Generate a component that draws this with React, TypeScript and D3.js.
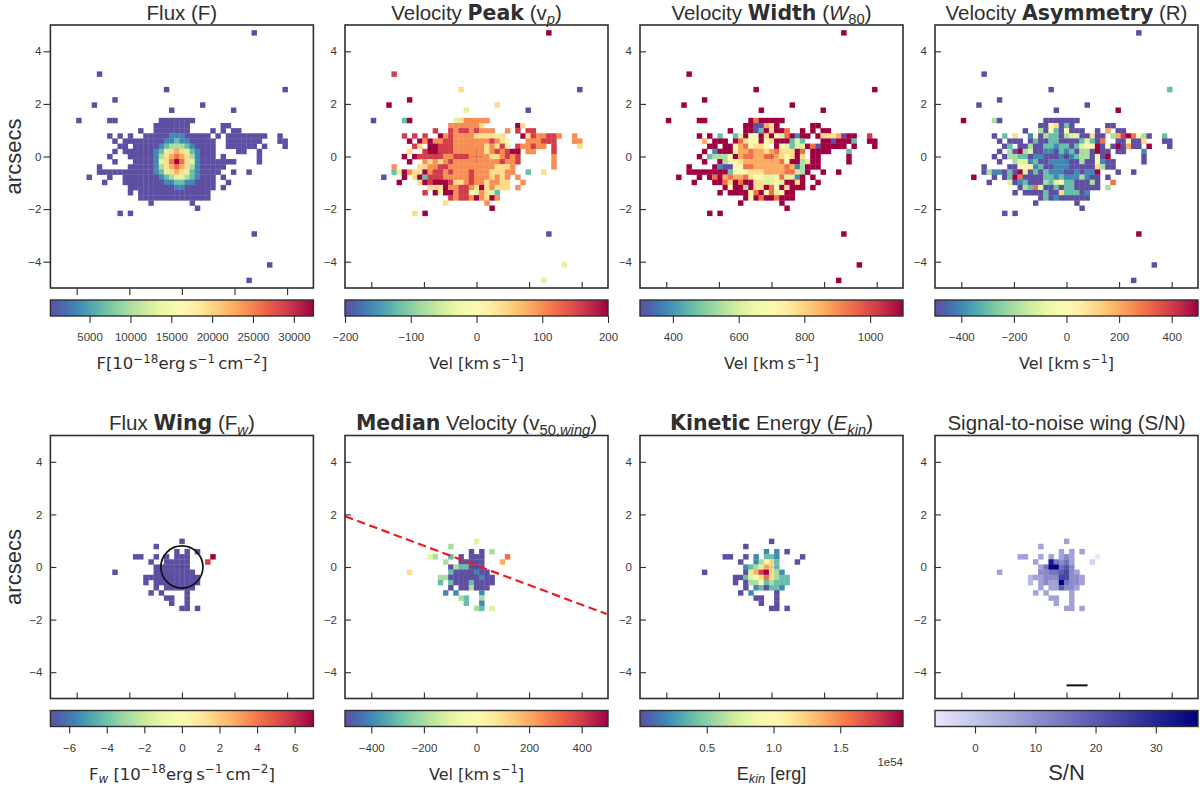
import React, { useEffect, useRef } from "react";
import * as d3 from "d3";

// each map row: "row col:levels col:levels", levels run 0..a along the colour scale, o = 7.5
const fluxRows = [
  "1 39:0", "9 9:0", "12 22:0 45:0", "14 12:0", "15 8:0 29:0", "16 23:0 35:0",
  "18 5:0 11:00 21:0000000",
  "19 20:0000000 33:00",
  "20 17:0 20:0000000 31:0 33:0 35:00",
  "21 11:0 13:0 15:0 18:00000 23:111 26:00000 32:0 34:00000000 44:0",
  "22 12:0 14:000000 20:001 23:121 26:100 29:000 34:0000000 44:00",
  "23 13:00 16:000 19:0012 23:333 26:2100 30:00 34:000000 41:0 45:0",
  "24 12:0 14:0000 18:0012467 25:6421000 36:00 40:0",
  "25 11:0 15:000 18:0013678 25:7631000 33:0 40:0",
  "26 12:0 16:00 18:001468a 25:8641000 32:0000 40:0",
  "27 9:0 15:000 18:0013678 25:7631000 32:00",
  "28 9:00000 14:0000 18:0012467 25:6421000 32:0 35:0 38:0",
  "29 7:0 11:0 14:00000 19:001234 25:432100 31:0 33:0",
  "30 10:0 14:000000 20:001122 26:110000 34:0",
  "31 15:000000 21:00011 26:000000 33:0",
  "32 15:0 17:00000 22:00000 27:0000",
  "33 17:00000000000000",
  "34 19:0 27:0", "35 28:0", "36 13:0 15:0", "40 39:0", "46 42:0", "49 38:0",
];

const peakRows = [
  "1 39:a", "9 9:9", "12 22:6 45:0", "14 12:a", "15 8:a 29:6", "16 23:4 35:0",
  "18 5:0 11:2a 21:46ooooo",
  "19 20:oooooo6 33:a6",
  "20 17:9 20:9o99o9ooo 31:o 33:9 35:99",
  "21 11:9 13:9 15:9 18:ao9oooo666646 34:a69oo99o 44:o",
  "22 12:a 14:aoaoo99ooooooo9o65 35:ooo999 44:oo",
  "23 13:96 16:aa999oooooo6o694 33:9oo9oo 40:9 45:6",
  "24 12:6 15:9aa999oooooo6o9o9aa 35:oo 40:9",
  "25 11:a 13:a99999oo999oooo66o9o9 40:o",
  "26 12:a 15:o6o6o9ooooooooo9oo9 40:o",
  "27 9:o 14:66oo99ooooooooo666o 40:o",
  "28 9:24ao66ao99o9ooo9ooo666oo 35:2 38:6",
  "29 7:0 11:a 13:6a2999ooooo9ooo6o6o 33:o",
  "30 10:a 14:6a9aaa966o9oo6oo66 34:o",
  "31 16:666aoo99o6a6o666 33:o",
  "32 15:9 17:a5aao9954o642",
  "33 20:9o99oao6ao",
  "34 19:6 27:o", "35 28:a", "36 13:6 15:a", "40 39:0", "46 42:4", "49 38:4",
];

const widthRows = [
  "1 39:a", "9 9:a", "12 22:a 45:a", "14 12:a", "15 8:a 29:a", "16 23:a 35:a",
  "18 5:a 11:aa 21:a8aaaaa",
  "19 20:aa00 24:76 26:a 33:aa",
  "20 17:a 20:aa02a6aa8 31:a 33:a 35:aa",
  "21 11:a 13:a 15:2 18:24a55a6a548a1aa 34:a66670aa 44:9",
  "22 12:7 14:aaa 18:a8655a56aaa242 35:aa0aaa2 44:aa",
  "23 13:aa 16:aa5785665 26:a54244a80aaaaa 41:a 45:a",
  "24 12:a 14:1aaa577877678666a8 33:aaaa 40:2",
  "25 11:a 13:23335a78877887656a6 33:aa 40:a",
  "26 12:a 15:a3556777777785aa36 33:aa 40:a",
  "27 9:a 14:a10055887777778713aaa",
  "28 9:aaaaaaaa 17:255566677778863a 35:a 38:a",
  "29 7:a 11:a 13:a8a787786554458441a 33:a",
  "30 10:a 14:aa86a8aa664454aa6a 34:a",
  "31 16:a5aa3a66a85a6aaa 33:a",
  "32 15:a 17:aaaa58a5845aa",
  "33 20:a5a8aa8aaa",
  "34 19:a 27:a", "35 28:a", "36 13:a 15:a", "40 39:a", "46 42:a", "49 38:a",
];

const asymRows = [
  "1 39:0", "9 9:0", "12 22:0 45:2", "14 12:0", "15 8:0 29:0", "16 23:0 35:a",
  "18 5:a 11:30 21:0000000",
  "19 20:0056020 33:00",
  "20 17:0 20:305205000 31:0 33:7 35:00",
  "21 11:0 13:2 15:6 18:150322034400600 34:379a8530 44:2",
  "22 12:0 14:000 18:020022000024208 35:005006 44:00",
  "23 13:02 16:003002212202455a050a0700 41:a 45:0",
  "24 12:0 14:30a34001102120330a00 35:00 40:1",
  "25 11:0 13:03322011000101233050a 40:0",
  "26 12:0 15:34412001111003005100 40:0",
  "27 9:0 14:005551200111000006300",
  "28 9:0311020a40202111001011a 35:0 38:0",
  "29 7:a 11:0 13:02a8000022121113100 33:0",
  "30 10:0 14:401200032452200030 34:8",
  "31 16:0328400202200000 33:3",
  "32 15:0 17:0000200622201",
  "33 20:0201000000",
  "34 19:0 27:0", "35 28:0", "36 13:0 15:0", "40 39:a", "46 42:0", "49 38:0",
];

const wingFluxRows = [
  "20 25:0", "21 20:0", "22 24:0 26:0 28:0",
  "23 16:00 20:0 22:0 24:000 31:a",
  "24 19:0 22:00000 30:9",
  "25 20:0000000",
  "26 12:0 20:00000000",
  "27 18:00000000000",
  "28 18:0 20:000000000",
  "29 20:0 22:000000",
  "30 19:0 21:0 26:0", "31 22:00 26:0", "32 23:0 26:0", "33 25:00 28:0",
];

const medianRows = [
  "20 25:4", "21 20:3", "22 24:0 26:0 28:3",
  "23 16:43 20:2 22:0 24:000 31:8",
  "24 19:3 22:00000 30:7",
  "25 20:0322000",
  "26 12:6 20:20000100",
  "27 18:33000000100",
  "28 18:2 20:200020000",
  "29 20:0 22:003000",
  "30 19:1 21:1 26:1", "31 22:32 26:3", "32 23:2 26:1", "33 25:32 28:4",
];

const ekinRows = [
  "20 25:0", "21 20:0", "22 24:1 26:1 28:0",
  "23 16:00 20:0 22:1 24:221 31:0",
  "24 19:0 22:13562 30:0",
  "25 20:1234762",
  "26 12:0 20:0479a631",
  "27 18:00 20:245686322",
  "28 18:0 20:033523222",
  "29 20:0 22:120221",
  "30 19:0 21:1 26:0", "31 22:00 26:0", "32 23:0 26:0", "33 25:00 28:0",
];

const snrRows = [
  "20 25:3", "21 20:3", "22 24:3 26:3 28:3",
  "23 16:33 20:3 22:3 24:343 31:0",
  "24 19:3 22:95453 30:1",
  "25 20:35aa564",
  "26 12:3 20:44556743",
  "27 18:23344477443",
  "28 18:2 20:3433a5443",
  "29 20:3 22:336443",
  "30 19:3 21:3 26:3", "31 22:33 26:3", "32 23:3 26:3", "33 25:33 28:3",
];

const fluxTicks = [5000, 10000, 15000, 20000, 25000, 30000];
const peakTicks = [-200, -100, 0, 100, 200];
const widthTicks = [400, 600, 800, 1000];
const velTicks = [-400, -200, 0, 200, 400];
const wingFluxTicks = [-6, -4, -2, 0, 2, 4, 6];
const ekinTicks = [0.5, 1.0, 1.5];
const snrTicks = [0, 10, 20, 30];
const axisTicks = [-4, -2, 0, 2, 4];

const beamCircle = { x: 0, y: 0, r: 0.8 };
const pvLine = [
  { x: -5, y: 1.93 },
  { x: 4.95, y: -1.79 },
];
const scaleBar = [
  { x: 0, y: -4.5 },
  { x: 0.8, y: -4.5 },
];

// text runs: [string, style], b bold, i italic, s sub, si italic sub, u sup
type Run = [string, string?];
const fluxUnit: Run[] = [
  ["[10"], ["\u221218", "u"], ["erg\u2009s"], ["\u22121", "u"], ["\u2009cm"], ["\u22122", "u"], ["]"],
];
const velUnit: Run[] = [["Vel [km\u2009s"], ["\u22121", "u"], ["]"]];

const spectral = (t: number) => d3.interpolateSpectral(1 - t);
const blues = d3.interpolateRgb("#e8e8fd", "#000080");

interface Panel {
  rows: string[];
  domain: [number, number];
  ticks: number[];
  interp: (t: number) => string;
  title: Run[];
  label: Run[];
  labelFont?: string;
  labelSize: number;
  tickFormat?: string;
}

const panels: Panel[] = [
  { rows: fluxRows, domain: [200, 32400], ticks: fluxTicks, interp: spectral, title: [["Flux (F)"]],
    label: [["F"], ...fluxUnit], labelFont: "DejaVu Sans", labelSize: 16.5, tickFormat: "d" },
  { rows: peakRows, domain: [-200, 200], ticks: peakTicks, interp: spectral,
    title: [["Velocity "], ["Peak", "b"], [" (v"], ["p", "si"], [")"]],
    label: velUnit, labelFont: "DejaVu Sans", labelSize: 16 },
  { rows: widthRows, domain: [300, 1100], ticks: widthTicks, interp: spectral,
    title: [["Velocity "], ["Width", "b"], [" ("], ["W", "i"], ["80", "s"], [")"]],
    label: velUnit, labelFont: "DejaVu Sans", labelSize: 16, tickFormat: "d" },
  { rows: asymRows, domain: [-500, 500], ticks: velTicks, interp: spectral,
    title: [["Velocity "], ["Asymmetry", "b"], [" (R)"]],
    label: velUnit, labelFont: "DejaVu Sans", labelSize: 16 },
  { rows: wingFluxRows, domain: [-7, 7], ticks: wingFluxTicks, interp: spectral,
    title: [["Flux "], ["Wing", "b"], [" (F"], ["w", "si"], [")"]],
    label: [["F"], ["w", "si"], [" "], ...fluxUnit], labelFont: "DejaVu Sans", labelSize: 16.5 },
  { rows: medianRows, domain: [-500, 500], ticks: velTicks, interp: spectral,
    title: [["Median", "b"], [" Velocity (v"], ["50,", "s"], ["wing", "si"], [")"]],
    label: velUnit, labelFont: "DejaVu Sans", labelSize: 16 },
  { rows: ekinRows, domain: [0, 1.97], ticks: ekinTicks, interp: spectral,
    title: [["Kinetic", "b"], [" Energy ("], ["E", "i"], ["kin", "si"], [")"]],
    label: [["E"], ["kin", "si"], [" [erg]"]], labelSize: 18, tickFormat: ".1f" },
  { rows: snrRows, domain: [-6.64, 37], ticks: snrTicks, interp: blues,
    title: [["Signal-to-noise wing (S/N)"]],
    label: [["S/N"]], labelSize: 22 },
];

const parseRows = (rows: string[]) =>
  rows.flatMap((line) => {
    const [row, ...runs] = line.split(" ");
    return runs.flatMap((run) => {
      const [col, levels] = run.split(":");
      return Array.from(levels).map((ch, i) => ({
        row: +row,
        col: +col + i,
        level: ch === "o" ? 7.5 : parseInt(ch, 11),
      }));
    });
  });

const panelLefts = [50.4, 345, 640, 935];
const rowTops = [25, 435.5];
const size = 263;
const GRID = 51;
const INK = "#2f2f2f";
const SANS = "'Liberation Sans', Arial, sans-serif";

const writeRuns = (text: d3.Selection<SVGTextElement, unknown, null, undefined>, runs: Run[], fontSize: number) => {
  let shift = 0;
  runs.forEach(([str, kind = ""]) => {
    const next = kind[0] === "s" ? fontSize * 0.22 : kind === "u" ? -fontSize * 0.38 : 0;
    const span = text
      .append("tspan")
      .attr("dy", next - shift)
      .attr("font-weight", kind === "b" ? 700 : 400)
      .attr("font-style", kind === "i" || kind === "si" ? "italic" : "normal")
      .attr("font-size", kind[0] === "s" || kind === "u" ? fontSize * 0.72 : fontSize)
      .text(str);
    // bold words come out in the wider math font
    if (kind === "b") span.attr("font-family", "'DejaVu Sans'");
    shift = next;
  });
};

const App: React.FC = () => {
  const ref = useRef<SVGSVGElement>(null);

  useEffect(() => {
    const svg = d3.select(ref.current);
    svg.selectAll("*").remove();
    const defs = svg.append("defs");
    defs
      .append("filter")
      .attr("id", "soft")
      .attr("x", "-5%")
      .attr("y", "-5%")
      .attr("width", "110%")
      .attr("height", "110%")
      .append("feGaussianBlur")
      .attr("stdDeviation", 0.45);

    const cell = d3.scaleLinear().domain([0, GRID]).range([-5, 5]);

    panels.forEach((p, i) => {
      const left = panelLefts[i % 4];
      const top = rowTops[Math.floor(i / 4)];
      const x = d3.scaleLinear().domain([-5, 5]).range([0, size]);
      const y = d3.scaleLinear().domain([-5, 5]).range([size, 0]);
      const color = d3.scaleSequential(p.interp).domain(p.domain);
      const g = svg.append("g").attr("transform", `translate(${left},${top})`);

      // map cells
      const cells = parseRows(p.rows);
      g.append("g")
        .attr("filter", "url(#soft)")
        .selectAll("rect")
        .data(cells)
        .enter()
        .append("rect")
        .attr("x", (d) => x(cell(d.col)))
        .attr("y", (d) => y(-cell(d.row)))
        .attr("width", x(cell(1)) - x(cell(0)) + 0.3)
        .attr("height", x(cell(1)) - x(cell(0)) + 0.3)
        .attr("fill", (d) => color(p.domain[0] + (d.level / 10) * (p.domain[1] - p.domain[0])));

      // faint centre cross
      if (i > 0) {
        g.append("path")
          .attr("d", `M${x(-0.25)},${y(0)}H${x(0.25)}M${x(0)},${y(-0.25)}V${y(0.25)}`)
          .attr("stroke", "rgba(0,0,0,0.18)")
          .attr("stroke-width", 0.7)
          .attr("fill", "none");
      }

      if (i === 4) {
        g.append("circle")
          .attr("cx", x(beamCircle.x))
          .attr("cy", y(beamCircle.y))
          .attr("r", x(beamCircle.r) - x(0))
          .attr("fill", "none")
          .attr("stroke", "#111")
          .attr("stroke-width", 1.7);
      }
      const line = d3
        .line<{ x: number; y: number }>()
        .x((d) => x(d.x))
        .y((d) => y(d.y));
      if (i === 5) {
        g.append("path")
          .attr("d", line(pvLine)!)
          .attr("stroke", "#ee1c1c")
          .attr("stroke-width", 2.2)
          .attr("stroke-dasharray", "8.5,4.5")
          .attr("fill", "none");
      }
      if (i === 7) {
        g.append("path").attr("d", line(scaleBar)!).attr("stroke", "#111").attr("stroke-width", 2);
      }

      // axes, only the first panel has outward ticks
      const tick = i === 0 ? 7 : -6;
      const xAxis = d3.axisBottom(x).tickValues(axisTicks).tickSize(tick).tickFormat(() => "");
      const yAxis = d3.axisLeft(y).tickValues(axisTicks).tickSize(tick).tickPadding(i === 0 ? 2 : 8);
      const xg = g.append("g").attr("transform", `translate(0,${size})`).call(xAxis);
      const yg = g.append("g").call(yAxis);
      [xg, yg].forEach((a) => {
        a.select(".domain").remove();
        a.selectAll("line").attr("stroke", INK).attr("stroke-width", 1.1);
        a.selectAll("text").attr("font-family", SANS).attr("font-size", 11.5).attr("fill", "#3a3a3a");
      });
      g.append("rect")
        .attr("width", size)
        .attr("height", size)
        .attr("fill", "none")
        .attr("stroke", INK)
        .attr("stroke-width", 1.6);

      // title
      const title = g
        .append("text")
        .attr("x", size / 2)
        .attr("y", -5.5)
        .attr("text-anchor", "middle")
        .attr("font-family", SANS)
        .attr("fill", INK);
      writeRuns(title as any, p.title, 20.5);

      // colour bar
      const barTop = size + 12;
      const barH = 16;
      const cb = d3.scaleLinear().domain(p.domain).range([0, size]);
      const gradId = `grad${i}`;
      defs
        .append("linearGradient")
        .attr("id", gradId)
        .selectAll("stop")
        .data(d3.quantize(p.interp, 32))
        .enter()
        .append("stop")
        .attr("offset", (_, k) => k / 31)
        .attr("stop-color", (d) => d);
      g.append("rect")
        .attr("y", barTop)
        .attr("width", size)
        .attr("height", barH)
        .attr("fill", `url(#${gradId})`)
        .attr("stroke", INK)
        .attr("stroke-width", 1.4);
      const cbAxis = d3.axisBottom(cb).tickValues(p.ticks).tickSize(7).tickPadding(10);
      if (p.tickFormat) cbAxis.tickFormat(d3.format(p.tickFormat) as any);
      const cg = g.append("g").attr("transform", `translate(0,${barTop + barH})`).call(cbAxis);
      cg.select(".domain").remove();
      cg.selectAll("line").attr("stroke", INK).attr("stroke-width", 1.1);
      cg.selectAll("text").attr("font-family", SANS).attr("font-size", 11.5).attr("fill", "#3a3a3a");

      const label = g
        .append("text")
        .attr("x", size / 2)
        .attr("y", size + 81)
        .attr("text-anchor", "middle")
        .attr("font-family", p.labelFont ? `'${p.labelFont}'` : SANS)
        .attr("fill", INK);
      writeRuns(label as any, p.label, p.labelSize);

      if (i === 6) {
        g.append("text")
          .attr("x", size)
          .attr("y", size + 67)
          .attr("text-anchor", "end")
          .attr("font-family", SANS)
          .attr("font-size", 11.5)
          .attr("fill", "#3a3a3a")
          .text("1e54");
      }
      if (i % 4 === 0) {
        g.append("text")
          .attr("transform", `translate(-29,${size / 2}) rotate(-90)`)
          .attr("text-anchor", "middle")
          .attr("font-family", SANS)
          .attr("font-size", 22)
          .attr("fill", INK)
          .text("arcsecs");
      }
    });
  }, []);

  return (
    <svg
      ref={ref}
      width={1200}
      height={786}
      style={{ position: "absolute", left: 0, top: 0, background: "#fff" }}
    />
  );
};

export default App;
